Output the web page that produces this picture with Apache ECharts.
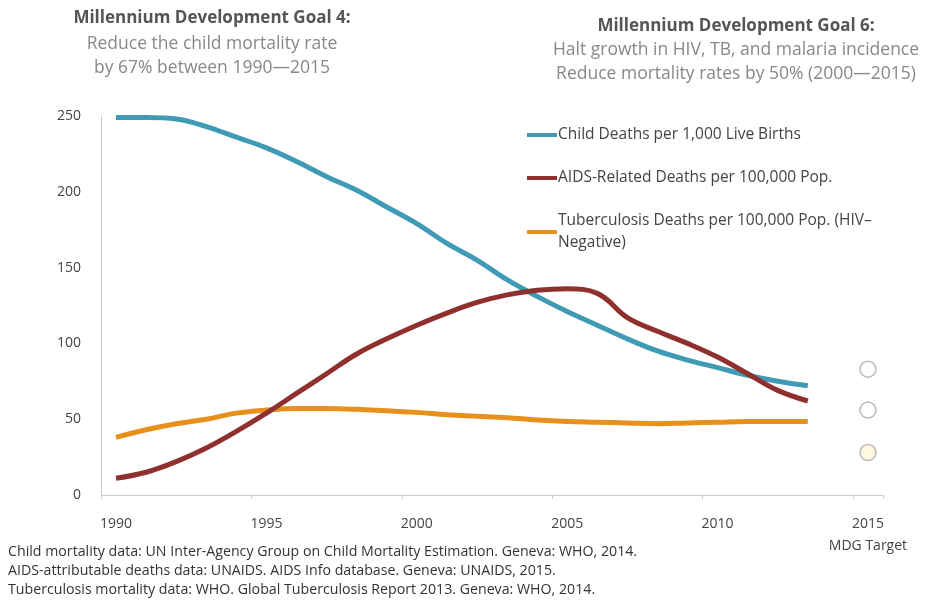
<!DOCTYPE html>
<html><head><meta charset="utf-8">
<script src="https://cdn.jsdelivr.net/npm/echarts@6/dist/echarts.min.js"></script>
<style>html,body{margin:0;padding:0;background:#fff}#c{width:925px;height:607px}</style>
</head><body><div id="c"></div>
<script>
const years = ['1990','1991','1992','1993','1994','1995','1996','1997','1998','1999','2000','2001','2002','2003','2004','2005','2006','2007','2008','2009','2010','2011','2012','2013','2014','2015'];
const childDeaths = [249,249,248,243,236,229,220,210,201,190,179,166,155,142,131,121,112,103,95,89,84,79,75,72];
const aidsDeaths = [11,15,22,31,42,54,67,80,93,103,112,120,127,132,135,136,133,117,108,100,91,80,69,62];
const tbDeaths = [38,43,47,50,54,56,57,57,56.5,55.5,54.5,53,52,51,49.5,48.5,48,47.5,47,47.5,48,48.5,48.5,48.5];
const targetYear = '2015';
const childTarget = 83;
const aidsTarget = 56;
const tbTarget = 28;
const yTicks = [0,50,100,150,200,250];
const seriesNames = ['Child Deaths per 1,000 Live Births','AIDS-Related Deaths per 100,000 Pop.','Tuberculosis Deaths per 100,000 Pop. (HIV–Negative)'];

const font = '"Open Sans", Lato, sans-serif';
const chart = echarts.init(document.getElementById('c'));
chart.setOption({
  animation:false,
  backgroundColor:'#fff',
  textStyle:{fontFamily:font},
  title:[
    {text:'Millennium Development Goal 4:', subtext:'Reduce the child mortality rate\nby 67% between 1990—2015', left:207, top:2, textAlign:'center',
     textStyle:{fontSize:17,fontWeight:'bold',color:'#555',fontFamily:font,lineHeight:22},
     subtextStyle:{fontSize:17.5,color:'#888',lineHeight:24,fontFamily:font}, itemGap:3},
    {text:'Millennium Development Goal 6:', subtext:'Halt growth in HIV, TB, and malaria incidence\nReduce mortality rates by 50% (2000—2015)', left:731, top:10, textAlign:'center',
     textStyle:{fontSize:17,fontWeight:'bold',color:'#555',fontFamily:font,lineHeight:22},
     subtextStyle:{fontSize:17.5,color:'#888',lineHeight:24,fontFamily:font}, itemGap:1},
    {text:'Child mortality data: UN Inter-Agency Group on Child Mortality Estimation. Geneva: WHO, 2014.\nAIDS-attributable deaths data: UNAIDS. AIDS Info database. Geneva: UNAIDS, 2015.\nTuberculosis mortality data: WHO. Global Tuberculosis Report 2013. Geneva: WHO, 2014.',
     left:3, top:537, textStyle:{fontSize:14.2,fontWeight:'normal',color:'#333',lineHeight:19,fontFamily:font}}
  ],
  legend:{
    orient:'vertical', left:522, top:119, itemWidth:30, itemHeight:4, itemGap:21, icon:'rect',
    data:seriesNames,
    textStyle:{fontSize:15.5,color:'#444',fontFamily:font,lineHeight:22, padding:[0,0,0,-4]},
    formatter: n => n === seriesNames[2] ? 'Tuberculosis Deaths per 100,000 Pop. (HIV–\nNegative)' : n
  },
  grid:{left:101, right:42, top:116, bottom:112},
  xAxis:{
    type:'category', data:years, boundaryGap:true,
    axisLine:{lineStyle:{color:'#ccc'}},
    axisTick:{show:true, lineStyle:{color:'#ccc'}, length:4},
    axisLabel:{interval:4, color:'#444', fontSize:14, margin:18, lineHeight:22,
      formatter: v => v === targetYear ? v + '\nMDG Target' : v}
  },
  yAxis:{
    type:'value', min:0, max:250, interval:50,
    axisLine:{show:true, lineStyle:{color:'#ccc'}},
    axisTick:{show:false}, splitLine:{show:false},
    axisLabel:{color:'#444', fontSize:14, margin:20}
  },
  series:[
    {name:seriesNames[0], type:'line', data:childDeaths, smooth:0.4, symbol:'none', lineStyle:{width:5,color:'#3f9bb5'}, itemStyle:{color:'#3f9bb5'}, z:3},
    {name:seriesNames[1], type:'line', data:aidsDeaths, smooth:0.4, symbol:'none', lineStyle:{width:5,color:'#8f2f2e'}, itemStyle:{color:'#8f2f2e'}, z:4},
    {name:seriesNames[2], type:'line', data:tbDeaths, smooth:0.4, symbol:'none', lineStyle:{width:5,color:'#e8901c'}, itemStyle:{color:'#e8901c'}, z:2},
    {name:'targets', type:'scatter', symbol:'circle', symbolSize:16,
     data:[
       {value:[targetYear, childTarget], itemStyle:{color:'#fff', borderColor:'#aaa', borderWidth:1.5}},
       {value:[targetYear, aidsTarget], itemStyle:{color:'#fff', borderColor:'#aaa', borderWidth:1.5}},
       {value:[targetYear, tbTarget], itemStyle:{color:'#fff8dc', borderColor:'#aaa', borderWidth:1.5}}
     ]}
  ]
});
</script></body></html>
